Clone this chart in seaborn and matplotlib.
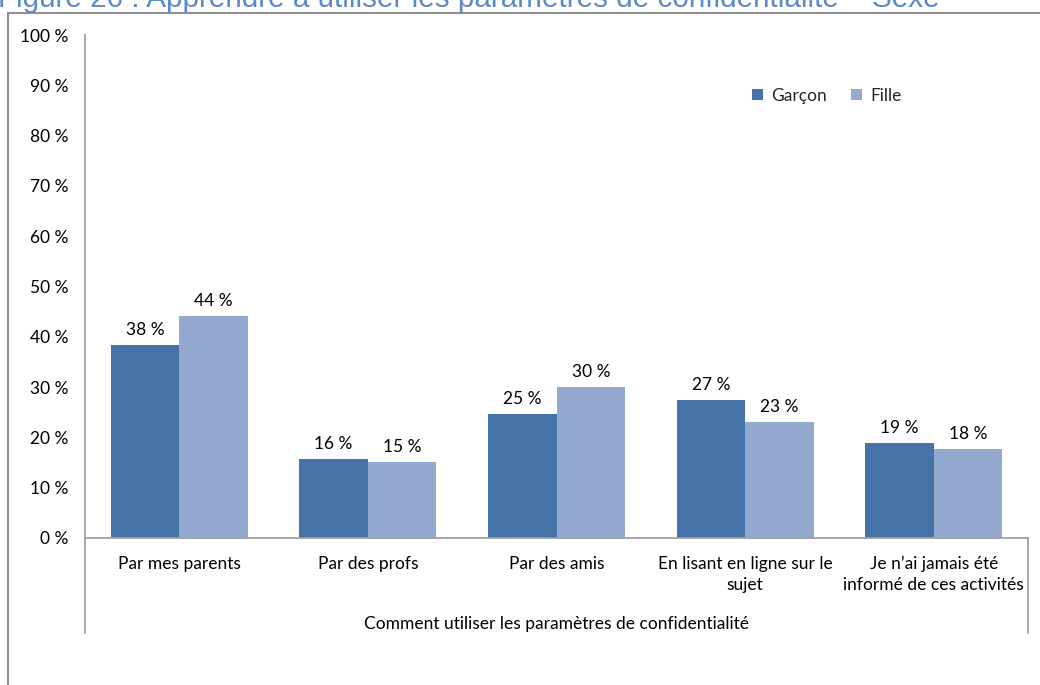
import matplotlib
matplotlib.use("Agg")
import matplotlib.pyplot as plt
import seaborn as sns
import pandas as pd
from matplotlib.lines import Line2D

# ---- data ----
categories = [
    "Par mes parents",
    "Par des profs",
    "Par des amis",
    "En lisant en ligne sur le\nsujet",
    "Je n’ai jamais été\ninformé de ces activités",
]
sexes = ["Garçon", "Fille"]
garcon = [38.4, 15.7, 24.6, 27.4, 18.9]
fille = [44.1, 15.1, 30.0, 23.1, 17.7]
yticks = [0, 10, 20, 30, 40, 50, 60, 70, 80, 90, 100]
ytick_labels = [f"{v} %" for v in yticks]
title = "Figure 26 : Apprendre à utiliser les paramètres de confidentialité – Sexe"
xlabel = "Comment utiliser les paramètres de confidentialité"
colors = ["#4573A7", "#94A9D0"]

sns.set_theme(style="white")
plt.rcParams['font.family'] = ['Lato', 'DejaVu Sans']

df = pd.DataFrame({
    "cat": categories * 2,
    "sexe": [sexes[0]] * len(categories) + [sexes[1]] * len(categories),
    "val": garcon + fille,
})

FS = 12.5
W, H = 1040, 685
fig = plt.figure(figsize=(W / 100, H / 100), dpi=100)
fig.patch.set_facecolor("white")
ax = fig.add_axes([85 / W, (H - 538) / H, 943 / W, 503 / H])

sns.barplot(data=df, x="cat", y="val", hue="sexe", hue_order=sexes,
            palette=colors, saturation=1, width=0.727, errorbar=None,
            linewidth=0, ax=ax)

ax.set_ylim(0, 100)
ax.set_xlim(-0.5, len(categories) - 0.5)
ax.set_yticks(yticks)
ax.set_yticklabels(ytick_labels)
ax.tick_params(axis="both", length=0, labelsize=FS, colors="black")
ax.tick_params(axis="y", pad=12)
ax.tick_params(axis="x", pad=13)
for lab in ax.get_xticklabels():
    lab.set_linespacing(1.35)
ax.set_xlabel("")
ax.set_ylabel("")

for s in ["top", "right"]:
    ax.spines[s].set_visible(False)
for s in ["left", "bottom"]:
    ax.spines[s].set_color("#A0A0A0")
    ax.spines[s].set_linewidth(1.3)

for cont in ax.containers:
    ax.bar_label(cont, labels=[f"{v:.0f} %" for v in cont.datavalues],
                 padding=5, fontsize=FS, color="black")

# extended category-axis lines
ext = -(633 - 538) / 503
for xx in (0, 1):
    ax.add_line(Line2D([xx, xx], [0, ext], transform=ax.transAxes,
                       color="#A0A0A0", lw=1.3, clip_on=False))

ax.text(0.5, (538 - 624) / 503, xlabel, transform=ax.transAxes,
        ha="center", va="center", fontsize=FS, color="black")

leg = ax.legend(loc="center", bbox_to_anchor=((827 - 85) / 943, (538 - 96) / 503),
                ncol=2, frameon=False, fontsize=FS, handlelength=0.6,
                handleheight=0.6, handletextpad=0.5, columnspacing=1.4)

# outer frame
fig.add_artist(Line2D([8 / W, 1.0], [1 - 12.5 / H, 1 - 12.5 / H], color="#909090", lw=1.5))
fig.add_artist(Line2D([8 / W, 8 / W], [1 - 12.5 / H, 0], color="#909090", lw=1.5))

fig.text(-0.002, 1 - 7 / H, title, color="#5B8AC6", fontsize=21.3,
         family=["Liberation Sans", "DejaVu Sans"], va="baseline", ha="left")

fig.savefig("out.png", dpi=100)
